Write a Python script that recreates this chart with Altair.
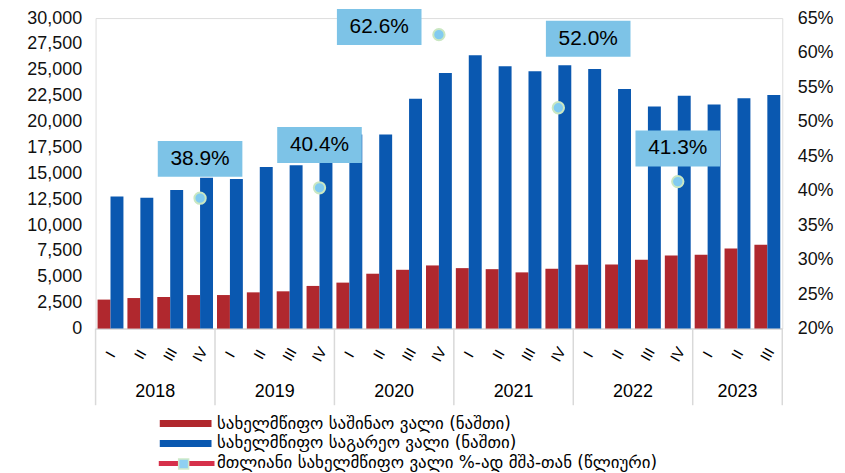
import altair as alt
import pandas as pd

# ---------------- data ----------------
years = ["2018"] * 4 + ["2019"] * 4 + ["2020"] * 4 + ["2021"] * 4 + ["2022"] * 4 + ["2023"] * 3
quarters = ["I", "II", "III", "IV"] * 5 + ["I", "II", "III"]

domestic = [2800, 2950, 3050, 3240, 3240, 3500, 3600, 4120,
            4440, 5300, 5680, 6100, 5840, 5740, 5430, 5780,
            6160, 6200, 6640, 7050, 7140, 7740, 8100]
external = [12750, 12650, 13400, 14570, 14450, 15620, 15780, 16000,
            18750, 18750, 22200, 24700, 26400, 25350, 24870, 25430,
            25080, 23150, 21450, 22500, 21650, 22250, 22570]

ratio_keys = ["2018 IV", "2019 IV", "2020 IV", "2021 IV", "2022 IV"]
ratio_values = [38.9, 40.4, 62.6, 52.0, 41.3]

# label box placement (anchor quarter, level on % axis)
label_anchor = ["2018 IV", "2019 IV", "2020 II", "2022 I", "2022 IV"]
label_level = [44.6, 46.6, 63.7, 62.0, 46.1]

lbl_dom = "სახელმწიფო საშინაო ვალი (ნაშთი)"
lbl_ext = "სახელმწიფო საგარეო ვალი (ნაშთი)"
lbl_ratio = "მთლიანი სახელმწიფო ვალი %-ად მშპ-თან (წლიური)"

# ---------------- tables ----------------
keys = [f"{y} {q}" for y, q in zip(years, quarters)]
bars_df = pd.DataFrame(
    [{"key": k, "series": lbl_dom, "value": v} for k, v in zip(keys, domestic)]
    + [{"key": k, "series": lbl_ext, "value": v} for k, v in zip(keys, external)]
)
quarter_df = pd.DataFrame({"key": keys, "q": quarters})
ratio_df = pd.DataFrame({"key": ratio_keys, "pct": ratio_values})
label_df = pd.DataFrame({
    "key": label_anchor,
    "level": label_level,
    "text": [f"{v:.1f}%" for v in ratio_values],
})

uniq_years = list(dict.fromkeys(years))
counts = [years.count(y) for y in uniq_years]
bounds, centers, pos = [0], [], 0
for c in counts:
    centers.append(pos + c / 2)
    pos += c
    bounds.append(pos)
bounds_df = pd.DataFrame({"pos": bounds})
years_df = pd.DataFrame({"year": uniq_years, "center": centers})
leg_df = pd.DataFrame({"s1": [lbl_ratio], "s2": [" "]})

# ---------------- styling ----------------
W, H = 690, 312
RED, BLUE = "#B0282E", "#0A58B0"
NUM_FONT = "Liberation Sans"
GEO_FONT = "DejaVu Sans"
GEO_SIZE = 17
N = len(keys)

xscale = alt.Scale(domain=keys, paddingInner=4 / 30, paddingOuter=2 / 30)
pct_scale = alt.Scale(domain=[20, 65], nice=False, zero=False)

bars = alt.Chart(bars_df).mark_bar().encode(
    x=alt.X("key:N", sort=keys, scale=xscale, title=None,
            axis=alt.Axis(labels=False, ticks=False, domainColor="#D9D9D9", domainWidth=1.5,
                          grid=False)),
    xOffset=alt.XOffset("series:N", scale=alt.Scale(domain=[lbl_dom, lbl_ext])),
    y=alt.Y("value:Q", scale=alt.Scale(domain=[0, 30000], nice=False), title=None,
            axis=alt.Axis(orient="left", values=list(range(0, 30001, 2500)), format=",.0f",
                          domain=False, ticks=False, grid=False, labelPadding=14,
                          labelFont=NUM_FONT, labelFontSize=18, labelColor="#111111")),
    color=alt.Color("series:N", scale=alt.Scale(domain=[lbl_dom, lbl_ext], range=[RED, BLUE]),
                    legend=alt.Legend(orient="none", legendX=82, legendY=399, title=None,
                                      symbolType="M-3.25,-0.44H3.25V0.44H-3.25Z", symbolSize=256,
                                      symbolStrokeWidth=0, symbolOpacity=1, labelFont=GEO_FONT,
                                      labelFontSize=GEO_SIZE, labelColor="#000000",
                                      labelOffset=23, labelLimit=600, rowPadding=2, padding=0)),
)

quarter_text = alt.Chart(quarter_df).mark_text(
    font=NUM_FONT, fontSize=15, color="#000000", angle=300, align="center", baseline="middle"
).encode(
    x=alt.X("key:N", sort=keys, scale=xscale, axis=None),
    y=alt.value(H + 26),
    text="q:N",
)

dots = alt.Chart(ratio_df).mark_point(filled=True, shape="circle", size=130, fill="#82CBF0",
                                      stroke="#C9E7C2", strokeWidth=2, opacity=1).encode(
    x=alt.X("key:N", sort=keys, scale=xscale, axis=None),
    y=alt.Y("pct:Q", scale=pct_scale, title=None,
            axis=alt.Axis(orient="right", values=list(range(20, 66, 5)),
                          labelExpr="datum.value + '%'", domain=False, ticks=False, grid=False,
                          labelPadding=15, labelFont=NUM_FONT, labelFontSize=18,
                          labelColor="#111111")),
)

boxes = alt.Chart(label_df).mark_point(filled=True, shape="M-1,-0.424H1V0.424H-1Z", size=7225,
                                       color="#7DC3E7", opacity=1).encode(
    x=alt.X("key:N", sort=keys, scale=xscale, axis=None),
    y=alt.Y("level:Q", scale=pct_scale, axis=None),
)

box_text = alt.Chart(label_df).mark_text(font=NUM_FONT, fontSize=21, color="#000000",
                                         baseline="middle").encode(
    x=alt.X("key:N", sort=keys, scale=xscale, axis=None),
    y=alt.Y("level:Q", scale=pct_scale, axis=None),
    text="text:N",
)

qscale = alt.Scale(domain=[0, N], nice=False, zero=False)
seps = alt.Chart(bounds_df).mark_rule(color="#D9D9D9", strokeWidth=1.5).encode(
    x=alt.X("pos:Q", scale=qscale, axis=None),
    y=alt.value(H),
    y2=alt.value(H + 77),
)
year_text = alt.Chart(years_df).mark_text(font=NUM_FONT, fontSize=18, color="#000000",
                                          baseline="middle").encode(
    x=alt.X("center:Q", scale=qscale, axis=None),
    y=alt.value(H + 64),
    text="year:N",
)

leg_line = alt.Chart(leg_df).transform_filter("false").mark_point(
    shape="M-3.5,0H3.5", filled=False, stroke="#D6304A", strokeWidth=5, opacity=1).encode(
    stroke=alt.Stroke("s1:N", scale=alt.Scale(domain=[lbl_ratio], range=["#D6304A"]),
                      legend=alt.Legend(orient="none", legendX=81, legendY=437, title=None,
                                        symbolType="M-3.5,0H3.5", symbolSize=256,
                                        symbolStrokeWidth=5, symbolFillColor="transparent",
                                        symbolOpacity=1,
                                        labelFont=GEO_FONT, labelFontSize=GEO_SIZE,
                                        labelColor="#000000", labelOffset=20, labelLimit=600,
                                        padding=0)),
)
leg_sq = alt.Chart(leg_df).transform_filter("false").mark_point(
    shape="square", filled=True, stroke="#CFEAC9", strokeWidth=1.5, opacity=1).encode(
    fill=alt.Fill("s2:N", scale=alt.Scale(domain=[" "], range=["#8FD0F2"]),
                  legend=alt.Legend(orient="none", legendX=82.5, legendY=442, title=None,
                                    symbolType="square", symbolSize=100, symbolOpacity=1,
                                    symbolStrokeColor="#CFEAC9", symbolStrokeWidth=1.5,
                                    labelFontSize=1, labelOffset=0, padding=0)),
)

chart = alt.layer(bars, quarter_text, dots, boxes, box_text, seps, year_text,
                  leg_line, leg_sq).resolve_scale(
    x="independent", y="independent"
).properties(
    width=W, height=H,
    autosize=alt.AutoSizeParams(type="none"),
    padding={"left": 88, "top": 9, "right": 55, "bottom": 144},
).configure_view(stroke=None).configure(background="white")

chart.save("out.html", embed_options={"renderer": "svg", "actions": False})
